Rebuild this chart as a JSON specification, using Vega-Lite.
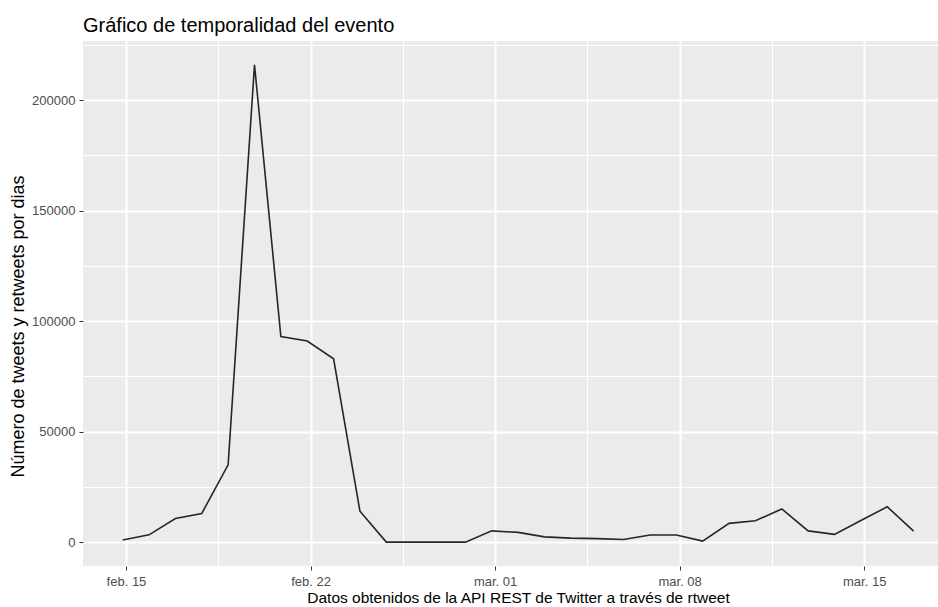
{
  "$schema": "https://vega.github.io/schema/vega-lite/v6.json",
  "width": 855,
  "height": 525,
  "autosize": {"type": "none"},
  "padding": {"left": 83, "top": 41, "right": 0, "bottom": 41},
  "background": "white",
  "config": {
    "font": "Liberation Sans",
    "view": {"fill": "#EBEBEB", "stroke": null},
    "axis": {
      "domain": false,
      "gridColor": "white",
      "tickColor": "#333333",
      "tickSize": 4,
      "tickWidth": 1,
      "labelColor": "#4D4D4D",
      "labelFontSize": 13,
      "titleColor": "black",
      "titleFontWeight": "normal"
    }
  },
  "title": {
    "text": "Gráfico de temporalidad del evento",
    "anchor": "start",
    "frame": "group",
    "fontSize": 20,
    "fontWeight": "normal",
    "color": "black",
    "offset": 5
  },
  "data": {
    "values": [
      {"fecha": "2021-02-14T21:00:00", "n": 1000},
      {"fecha": "2021-02-15T21:00:00", "n": 3300},
      {"fecha": "2021-02-16T21:00:00", "n": 10700},
      {"fecha": "2021-02-17T21:00:00", "n": 13000},
      {"fecha": "2021-02-18T21:00:00", "n": 35000},
      {"fecha": "2021-02-19T21:00:00", "n": 216000},
      {"fecha": "2021-02-20T21:00:00", "n": 93000},
      {"fecha": "2021-02-21T21:00:00", "n": 91000},
      {"fecha": "2021-02-22T21:00:00", "n": 83000},
      {"fecha": "2021-02-23T21:00:00", "n": 14000},
      {"fecha": "2021-02-24T21:00:00", "n": 0},
      {"fecha": "2021-02-25T21:00:00", "n": 0},
      {"fecha": "2021-02-26T21:00:00", "n": 0},
      {"fecha": "2021-02-27T21:00:00", "n": 0},
      {"fecha": "2021-02-28T21:00:00", "n": 5100},
      {"fecha": "2021-03-01T21:00:00", "n": 4400},
      {"fecha": "2021-03-02T21:00:00", "n": 2400},
      {"fecha": "2021-03-03T21:00:00", "n": 1800},
      {"fecha": "2021-03-04T21:00:00", "n": 1600},
      {"fecha": "2021-03-05T21:00:00", "n": 1200},
      {"fecha": "2021-03-06T21:00:00", "n": 3200},
      {"fecha": "2021-03-07T21:00:00", "n": 3200},
      {"fecha": "2021-03-08T21:00:00", "n": 450},
      {"fecha": "2021-03-09T21:00:00", "n": 8500},
      {"fecha": "2021-03-10T21:00:00", "n": 9700},
      {"fecha": "2021-03-11T21:00:00", "n": 15000},
      {"fecha": "2021-03-12T21:00:00", "n": 5100},
      {"fecha": "2021-03-13T21:00:00", "n": 3500},
      {"fecha": "2021-03-14T21:00:00", "n": 9800},
      {"fecha": "2021-03-15T21:00:00", "n": 16000},
      {"fecha": "2021-03-16T21:00:00", "n": 5000}
    ]
  },
  "mark": {"type": "line", "color": "#262626", "strokeWidth": 1.6, "clip": true},
  "encoding": {
    "x": {
      "field": "fecha",
      "type": "temporal",
      "scale": {
        "domain": [
          {"year": 2021, "month": 2, "date": 13, "hours": 8, "minutes": 53},
          {"year": 2021, "month": 3, "date": 17, "hours": 19, "minutes": 12}
        ]
      },
      "axis": {
        "title": "Datos obtenidos de la API REST de Twitter a través de rtweet",
        "titleFontSize": 15.5,
        "titleX": 435,
        "titlePadding": 2,
        "labelPadding": 5,
        "values": [
          {"year": 2021, "month": 2, "date": 15},
          {"year": 2021, "month": 2, "date": 18, "hours": 12},
          {"year": 2021, "month": 2, "date": 22},
          {"year": 2021, "month": 2, "date": 25, "hours": 12},
          {"year": 2021, "month": 3, "date": 1},
          {"year": 2021, "month": 3, "date": 4, "hours": 12},
          {"year": 2021, "month": 3, "date": 8},
          {"year": 2021, "month": 3, "date": 11, "hours": 12},
          {"year": 2021, "month": 3, "date": 15}
        ],
        "labelExpr": "hours(datum.value) == 12 ? '' : lower(timeFormat(datum.value, '%b')) + '. ' + timeFormat(datum.value, '%d')",
        "gridWidth": {"condition": {"test": "hours(datum.value) == 12", "value": 1}, "value": 2},
        "tickOpacity": {"condition": {"test": "hours(datum.value) == 12", "value": 0}, "value": 1}
      }
    },
    "y": {
      "field": "n",
      "type": "quantitative",
      "scale": {"domain": [-10800, 226800], "nice": false, "zero": false},
      "axis": {
        "title": "Número de tweets y retweets por dias",
        "titleFontSize": 18,
        "titleX": -65,
        "titleY": 285,
        "titleBaseline": "middle",
        "labelPadding": 4,
        "values": [0, 25000, 50000, 75000, 100000, 125000, 150000, 175000, 200000, 225000],
        "labelExpr": "datum.value % 50000 != 0 ? '' : format(datum.value, 'd')",
        "gridWidth": {"condition": {"test": "datum.value % 50000 != 0", "value": 1}, "value": 2},
        "tickOpacity": {"condition": {"test": "datum.value % 50000 != 0", "value": 0}, "value": 1}
      }
    }
  }
}
